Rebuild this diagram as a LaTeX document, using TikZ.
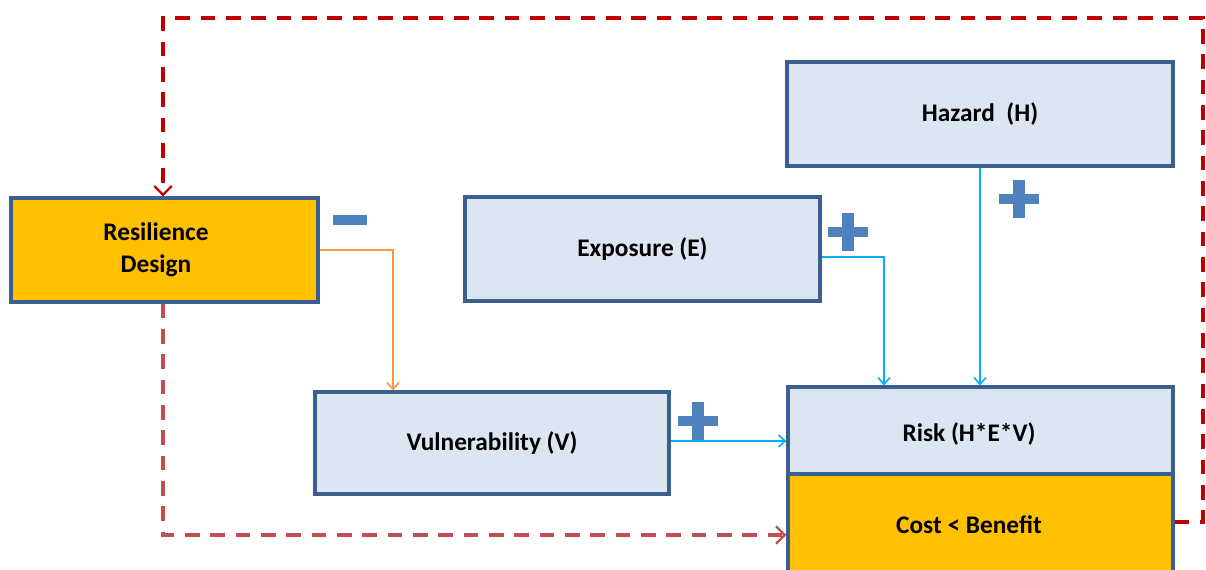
\documentclass[tikz,border=0pt]{standalone}
\usepackage{fontspec}
\setmainfont{Carlito}
\usetikzlibrary{arrows.meta}
\definecolor{gold}{HTML}{FFC000}
\definecolor{paleblue}{HTML}{DCE6F2}
\definecolor{frame}{HTML}{3B5F8E}
\definecolor{darkred}{HTML}{C00000}
\definecolor{softred}{HTML}{C0504D}
\definecolor{linkorange}{HTML}{F79646}
\definecolor{linkblue}{HTML}{00B0F0}
\definecolor{signblue}{HTML}{4F81BD}
\tikzset{
  box/.style={draw=frame, line width=2.4pt, rectangle, inner sep=0pt,
    font=\bfseries\fontsize{19}{24}\selectfont, align=center},
  pale/.style={box, fill=paleblue},
  goldbox/.style={box, fill=gold},
  lbl/.style={font=\bfseries\fontsize{19}{24}\selectfont, align=center},
  loopline/.style={line width=2.4pt, dash pattern=on 11pt off 8pt,
    -{Straight Barb[length=6.5pt,width=13pt,line width=1.8pt]}},
  link/.style={line width=1.5pt, -{Straight Barb[length=5pt,width=9pt,line width=1.2pt]}},
  sign/.style={fill=signblue, draw=none}
}
\begin{document}
\begin{tikzpicture}[x=0.75pt,y=-0.75pt]
\useasboundingbox (0,0) rectangle (1206,570);
% boxes
\node[goldbox, minimum width=307*0.75pt, minimum height=104*0.75pt] (res) at (164.5,250) {};
\node[lbl] (reslbl) at (156,250) {Resilience\\Design};
\node[pale, minimum width=355*0.75pt, minimum height=104*0.75pt] (exp) at (642.5,249) {Exposure (E)};
\node[pale, minimum width=386*0.75pt, minimum height=104*0.75pt] (haz) at (980,114) {Hazard\ \ (H)};
\node[pale, minimum width=354*0.75pt, minimum height=102*0.75pt] (vul) at (492,443) {Vulnerability (V)};
\node[pale, minimum width=385*0.75pt, minimum height=87*0.75pt] (risk) at (980.5,430.5) {};
\node[goldbox, minimum width=385*0.75pt, minimum height=110*0.75pt] (cost) at (980.5,529) {};
\node[lbl] (risklbl) at (969,434) {Risk (H*E*V)};
\node[lbl] (costlbl) at (969,525) {Cost < Benefit};
% coordinates for the loop routes
\coordinate (cr) at (1203,522);
\coordinate (tr) at (1203,18);
\coordinate (tl) at (163,18);
\coordinate (bl) at (163,535);
% feedback loop from cost/benefit back to design
\draw[loopline, darkred] (cost.east |- cr) -- (cr) -- (tr) -- (tl) -- (tl |- res.north);
% design influencing cost/benefit
\draw[loopline, softred] (res.south -| bl) -- (bl) -- (bl -| cost.west);
% design reduces vulnerability
\coordinate (ov) at (393,250);
\draw[link, linkorange] (res.east |- ov) -- (ov) -- (ov |- vul.north);
% factors feeding risk
\coordinate (ex) at (884,257);
\draw[link, linkblue] (exp.east |- ex) -- (ex) -- (ex |- risk.north);
\draw[link, linkblue] (haz.south) -- (risk.north -| haz.south);
\draw[link, linkblue] (vul.east |- 0,441) -- (risk.west |- 0,441);
% signs
\fill[sign] (333,215) rectangle (367,225);
\foreach \cx/\cy in {848/232, 1019/199, 698/421}{
  \fill[sign] (\cx-20,\cy-5) rectangle (\cx+20,\cy+5);
  \fill[sign] (\cx-6,\cy-19) rectangle (\cx+6,\cy+19);
}
\end{tikzpicture}
\end{document}
